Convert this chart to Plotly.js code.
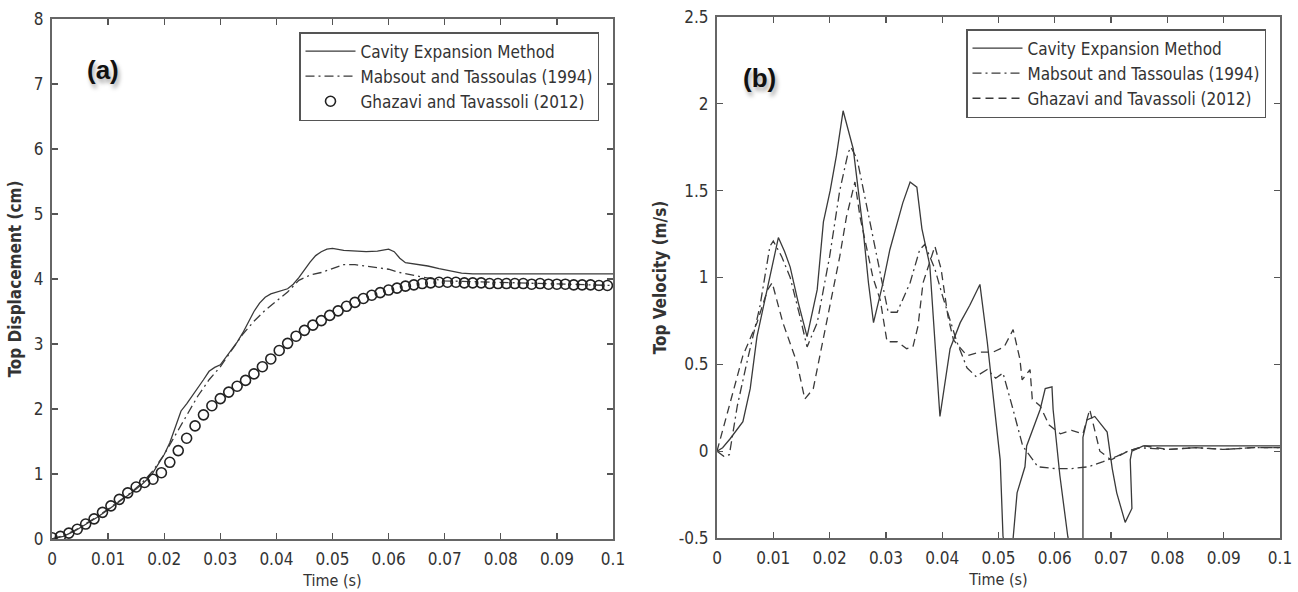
<!DOCTYPE html>
<html>
<head>
<meta charset="utf-8">
<script src="https://cdn.plot.ly/plotly-3.0.1.min.js"></script>
<style>html,body{margin:0;padding:0;background:#fff;}#chart{width:1298px;height:592px;}</style>
</head>
<body>
<div id="chart"></div>
<script>
// ---------- Panel (a): Top displacement (cm) ----------
const tCavA = [0,0.002,0.004,0.006,0.008,0.010,0.012,0.014,0.016,0.017,0.018,0.019,0.020,0.021,0.022,0.023,0.024,0.025,0.026,0.027,0.028,0.029,0.030,0.031,0.032,0.033,0.034,0.035,0.036,0.037,0.038,0.039,0.040,0.041,0.042,0.043,0.044,0.045,0.046,0.047,0.048,0.049,0.050,0.052,0.054,0.056,0.058,0.060,0.061,0.062,0.063,0.065,0.067,0.069,0.071,0.073,0.075,0.080,0.090,0.100];
const vCavA = [0,0.04,0.12,0.22,0.33,0.45,0.57,0.70,0.84,0.92,1.02,1.15,1.30,1.48,1.72,1.97,2.08,2.20,2.32,2.45,2.58,2.64,2.68,2.80,2.92,3.03,3.17,3.33,3.50,3.63,3.72,3.77,3.80,3.83,3.85,3.92,4.02,4.14,4.26,4.36,4.42,4.46,4.47,4.44,4.43,4.42,4.43,4.46,4.42,4.32,4.25,4.23,4.20,4.16,4.12,4.09,4.08,4.08,4.08,4.08];

const tMabA = [0,0.002,0.004,0.006,0.008,0.010,0.012,0.014,0.016,0.018,0.020,0.022,0.024,0.026,0.028,0.030,0.032,0.034,0.036,0.038,0.040,0.042,0.044,0.046,0.048,0.050,0.052,0.054,0.056,0.058,0.060,0.062,0.064,0.066,0.068,0.070,0.075,0.080,0.085,0.090,0.095,0.100];
const vMabA = [0,0.05,0.13,0.23,0.34,0.46,0.58,0.71,0.86,1.05,1.30,1.60,1.92,2.20,2.45,2.65,2.90,3.15,3.35,3.52,3.66,3.80,3.98,4.06,4.10,4.16,4.22,4.22,4.20,4.17,4.15,4.10,4.06,4.03,4.00,3.97,3.96,3.95,3.93,3.92,3.91,3.90];

const tGhaA = [0,0.0015,0.003,0.0045,0.006,0.0075,0.009,0.0105,0.012,0.0135,0.015,0.0165,0.018,0.0195,0.021,0.0225,0.024,0.0255,0.027,0.0285,0.030,0.0315,0.033,0.0345,0.036,0.0375,0.039,0.0405,0.042,0.0435,0.045,0.0465,0.048,0.0495,0.051,0.0525,0.054,0.0555,0.057,0.0585,0.060,0.0615,0.063,0.0645,0.066,0.0675,0.069,0.0705,0.072,0.0735,0.075,0.0765,0.078,0.0795,0.081,0.0825,0.084,0.0855,0.087,0.0885,0.090,0.0915,0.093,0.0945,0.096,0.0975,0.099];
const vGhaA = [0.02,0.04,0.09,0.15,0.23,0.31,0.41,0.51,0.61,0.71,0.80,0.87,0.92,1.02,1.18,1.36,1.55,1.74,1.91,2.05,2.16,2.26,2.35,2.44,2.54,2.65,2.77,2.90,3.01,3.12,3.21,3.29,3.36,3.44,3.51,3.58,3.64,3.70,3.75,3.79,3.83,3.86,3.89,3.91,3.93,3.94,3.95,3.95,3.95,3.94,3.94,3.94,3.93,3.93,3.93,3.93,3.93,3.92,3.93,3.92,3.92,3.92,3.91,3.91,3.91,3.90,3.90];

// ---------- Panel (b): Top velocity (m/s) ----------
const tCavB = [0,0.001,0.0023,0.0035,0.0046,0.0059,0.0071,0.0089,0.0109,0.012,0.013,0.0144,0.016,0.0178,0.0189,0.0201,0.0212,0.0224,0.0242,0.026,0.0269,0.0278,0.0295,0.0307,0.033,0.0343,0.0355,0.0364,0.0378,0.0384,0.0396,0.0414,0.0432,0.0449,0.0467,0.048,0.049,0.0503,0.0508,0.0517,0.0526,0.0533,0.0547,0.055,0.0574,0.0583,0.0595,0.0597,0.0609,0.0623,0.0637,0.065,0.065,0.0657,0.0671,0.0693,0.0702,0.071,0.0725,0.0737,0.0734,0.0737,0.0757,0.080,0.090,0.100];
const vCavB = [0,0.02,0.07,0.12,0.17,0.36,0.66,0.93,1.23,1.15,1.06,0.86,0.66,0.93,1.32,1.50,1.70,1.96,1.74,1.26,0.97,0.74,0.97,1.16,1.43,1.55,1.52,1.28,1.07,0.78,0.20,0.59,0.74,0.84,0.96,0.63,0.34,-0.05,-0.49,-0.65,-0.50,-0.24,-0.09,0.03,0.24,0.36,0.37,0.24,-0.14,-0.49,-0.70,-0.80,0.08,0.18,0.20,0.11,-0.10,-0.24,-0.41,-0.33,-0.05,0.00,0.03,0.03,0.03,0.03];

const tMabB = [0,0.0012,0.0022,0.0036,0.0053,0.0076,0.0094,0.0100,0.0115,0.013,0.0147,0.016,0.0178,0.020,0.0218,0.0233,0.0238,0.0249,0.0266,0.0284,0.0295,0.0304,0.032,0.0343,0.036,0.0369,0.0387,0.040,0.0426,0.0444,0.046,0.048,0.0495,0.0508,0.0525,0.0543,0.057,0.060,0.063,0.066,0.0686,0.071,0.073,0.075,0.080,0.085,0.090,0.095,0.100];
const vMabB = [0,-0.03,-0.02,0.26,0.51,0.83,1.18,1.21,1.12,1.00,0.78,0.60,0.74,1.12,1.50,1.72,1.75,1.68,1.41,1.12,0.93,0.80,0.80,0.97,1.16,1.19,1.05,0.90,0.63,0.48,0.43,0.47,0.42,0.45,0.25,0.03,-0.09,-0.10,-0.10,-0.09,-0.06,-0.03,0.00,0.02,0.01,0.02,0.01,0.02,0.02];

const tGhaB = [0,0.0023,0.0046,0.0071,0.009,0.0098,0.0117,0.0142,0.0156,0.0171,0.0195,0.0218,0.023,0.0245,0.0254,0.0266,0.0277,0.029,0.0302,0.032,0.0337,0.0348,0.0357,0.0366,0.0387,0.0398,0.041,0.042,0.0444,0.0467,0.049,0.051,0.0526,0.0538,0.0542,0.0556,0.056,0.0574,0.059,0.061,0.063,0.065,0.0662,0.068,0.070,0.073,0.076,0.080,0.085,0.090,0.095,0.100];
const vGhaB = [0,0.28,0.55,0.74,0.93,0.97,0.74,0.51,0.30,0.36,0.74,1.12,1.35,1.55,1.35,1.16,1.00,0.87,0.63,0.63,0.59,0.60,0.72,0.97,1.18,1.05,0.78,0.64,0.55,0.57,0.57,0.60,0.70,0.53,0.41,0.47,0.30,0.26,0.15,0.10,0.12,0.10,0.24,0.00,-0.05,0.00,0.03,0.01,0.02,0.01,0.02,0.02];

const nameCav = 'Cavity Expansion Method';
const nameMab = 'Mabsout and Tassoulas (1994)';
const nameGha = 'Ghazavi and Tavassoli (2012)';
const xTickVals = [0,0.01,0.02,0.03,0.04,0.05,0.06,0.07,0.08,0.09,0.1];
const xTickText = ['0','0.01','0.02','0.03','0.04','0.05','0.06','0.07','0.08','0.09','0.1'];
const yTickValsA = [0,1,2,3,4,5,6,7,8];
const yTickValsB = [-0.5,0,0.5,1,1.5,2,2.5];
const yTickTextB = ['-0.5','0','0.5','1','1.5','2','2.5'];

const LC = '#3a3a3a';
const NARROW = '"Liberation Sans Narrow", "Arial Narrow", "DejaVu Sans Condensed", sans-serif';
const DASH = '8px,5px';
const DASHDOT = '9px,4px,2px,4px';

const traces = [
  {x:tCavA, y:vCavA, name:nameCav, mode:'lines', line:{color:LC, width:1.3}, xaxis:'x', yaxis:'y', legend:'legend'},
  {x:tMabA, y:vMabA, name:nameMab, mode:'lines', line:{color:LC, width:1.3, dash:DASHDOT}, xaxis:'x', yaxis:'y', legend:'legend'},
  {x:tGhaA, y:vGhaA, name:nameGha, mode:'markers', marker:{symbol:'circle-open', size:10, color:'#222', line:{width:1.6, color:'#222'}}, xaxis:'x', yaxis:'y', legend:'legend'},
  {x:tCavB, y:vCavB, name:nameCav, mode:'lines', line:{color:LC, width:1.3}, xaxis:'x2', yaxis:'y2', legend:'legend2'},
  {x:tMabB, y:vMabB, name:nameMab, mode:'lines', line:{color:LC, width:1.3, dash:DASHDOT}, xaxis:'x2', yaxis:'y2', legend:'legend2'},
  {x:tGhaB, y:vGhaB, name:nameGha, mode:'lines', line:{color:LC, width:1.3, dash:DASH}, xaxis:'x2', yaxis:'y2', legend:'legend2'}
];

const W = 1298, H = 592;
const tickFont = {family:NARROW, size:17, color:'#333'};
function xAxis(dom, anchor){
  return {domain:dom, anchor:anchor, range:[0,0.1], tickvals:xTickVals, ticktext:xTickText,
    ticks:'inside', ticklen:6, tickwidth:1.3, tickcolor:'#555', showline:true, linecolor:'#666', linewidth:2,
    mirror:'ticks', showgrid:false, zeroline:false, tickfont:tickFont, ticklabelstandoff:4,
    title:{text:'Time (s)', font:{family:NARROW, size:16, color:'#333'}, standoff:6}};
}
function yAxis(dom, anchor, range, vals, text, title){
  const a = {domain:dom, anchor:anchor, range:range, tickvals:vals,
    ticks:'inside', ticklen:6, tickwidth:1.3, tickcolor:'#555', showline:true, linecolor:'#666', linewidth:2,
    mirror:'ticks', showgrid:false, zeroline:false, tickfont:tickFont, ticklabelstandoff:3,
    title:{text:title, font:{family:NARROW, size:17, color:'#333', weight:'bold'}, standoff:8}};
  if (text) a.ticktext = text;
  return a;
}

const layout = {
  width:W, height:H, margin:{l:0, r:0, t:0, b:0}, paper_bgcolor:'#fff', plot_bgcolor:'#fff',
  showlegend:true,
  xaxis: xAxis([52/W, 613/W], 'y'),
  yaxis: yAxis([1-539/H, 1-19/H], 'x', [0,8], yTickValsA, null, 'Top Displacement (cm)'),
  xaxis2: xAxis([717/W, 1280/W], 'y2'),
  yaxis2: yAxis([1-538/H, 1-17/H], 'x2', [-0.5,2.5], yTickValsB, yTickTextB, 'Top Velocity (m/s)'),
  legend: {x:299/W, y:1-32/H, xanchor:'left', yanchor:'top', bgcolor:'#fff', bordercolor:'#555', borderwidth:1.5,
    font:{family:NARROW, size:17, color:'#333'}, itemwidth:50, tracegroupgap:0},
  legend2: {x:966/W, y:1-29/H, xanchor:'left', yanchor:'top', bgcolor:'#fff', bordercolor:'#555', borderwidth:1.5,
    font:{family:NARROW, size:17, color:'#333'}, itemwidth:50, tracegroupgap:0},
  annotations: [
    {text:'(a)', xref:'paper', yref:'paper', x:103/W, y:1-70/H, xanchor:'center', yanchor:'middle', showarrow:false,
      font:{family:'"Liberation Sans", Arial, sans-serif', size:26, color:'#111', weight:'bold', shadow:'2px 4px 4px rgba(0,0,0,0.35)'}},
    {text:'(b)', xref:'paper', yref:'paper', x:759/W, y:1-78/H, xanchor:'center', yanchor:'middle', showarrow:false,
      font:{family:'"Liberation Sans", Arial, sans-serif', size:26, color:'#111', weight:'bold', shadow:'2px 4px 4px rgba(0,0,0,0.35)'}}
  ]
};

Plotly.newPlot('chart', traces, layout, {displayModeBar:false, staticPlot:true});
</script>
</body>
</html>
